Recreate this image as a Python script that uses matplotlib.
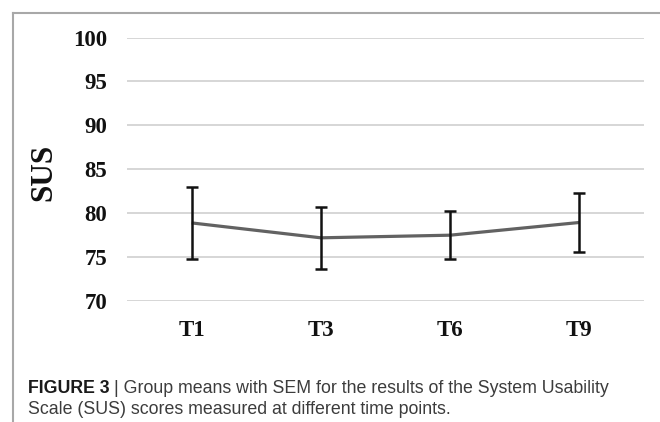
import matplotlib
matplotlib.use("Agg")
import matplotlib.pyplot as plt
from matplotlib.lines import Line2D
from matplotlib import font_manager

categories = ["T1", "T3", "T6", "T9"]
means = [78.85, 77.15, 77.45, 78.9]
sem = [4.1, 3.55, 2.75, 3.4]
yticks = [70, 75, 80, 85, 90, 95, 100]

W, H = 660, 422
fig = plt.figure(figsize=(W / 100, H / 100), dpi=100)
fig.patch.set_facecolor("white")

left, right, top, bottom = 127, 644, 37.5, 300.5
ax = fig.add_axes([left / W, 1 - bottom / H, (right - left) / W, (bottom - top) / H])

x = list(range(len(categories)))
ax.plot(x, means, color="#626262", lw=2.3, zorder=3, solid_capstyle="butt")
ax.errorbar(x, means, yerr=sem, fmt="none", ecolor="#111111", elinewidth=1.8,
            capsize=4.6, capthick=1.8, zorder=4)

ax.set_xlim(-0.5, len(categories) - 0.5)
ax.set_ylim(70, 100)
ax.set_yticks(yticks)
ax.set_xticks(x)
ax.set_xticklabels(categories)
ax.yaxis.grid(True, color="#cccccc", lw=1.1)
ax.set_axisbelow(True)
for s in ax.spines.values():
    s.set_visible(False)
ax.tick_params(length=0)
ax.tick_params(axis="y", pad=14.4)
ax.tick_params(axis="x", pad=14.0)
for lab in ax.get_yticklabels() + ax.get_xticklabels():
    lab.set_fontfamily("Liberation Serif")
    lab.set_fontweight("bold")
    lab.set_fontsize(16.5)
    lab.set_color("#111111")

fig.text(44 / W, 1 - 172 / H, "SUS", rotation=90, ha="center", va="center",
         fontfamily="Liberation Serif", fontweight="bold", fontsize=22.5, color="#111111")

# frame lines
fig.add_artist(Line2D([13 / W, 13 / W], [0, 1 - 13 / H], color="#a8a8a8", lw=1.5,
                      transform=fig.transFigure))
fig.add_artist(Line2D([13 / W, 1], [1 - 13 / H, 1 - 13 / H], color="#a8a8a8", lw=1.5,
                      transform=fig.transFigure))

# caption
names = {f.name for f in font_manager.fontManager.ttflist}
capfont = "Liberation Sans Narrow" if "Liberation Sans Narrow" in names else "Liberation Sans"
capsize_pt = 12.8
t1 = fig.text(28 / W, 1 - 393 / H, "FIGURE 3", fontfamily=capfont, fontweight="bold",
              fontsize=capsize_pt, color="#1a1a1a", va="baseline")
fig.canvas.draw()
bb = t1.get_window_extent()
x2 = bb.x1 / W + 4 / W
fig.text(x2, 1 - 393 / H, "| Group means with SEM for the results of the System Usability",
         fontfamily=capfont, fontsize=capsize_pt, color="#3c3c3c", va="baseline")
fig.text(28 / W, 1 - 414 / H, "Scale (SUS) scores measured at different time points.",
         fontfamily=capfont, fontsize=capsize_pt, color="#3c3c3c", va="baseline")

fig.savefig("out.png", dpi=100, facecolor="white")
